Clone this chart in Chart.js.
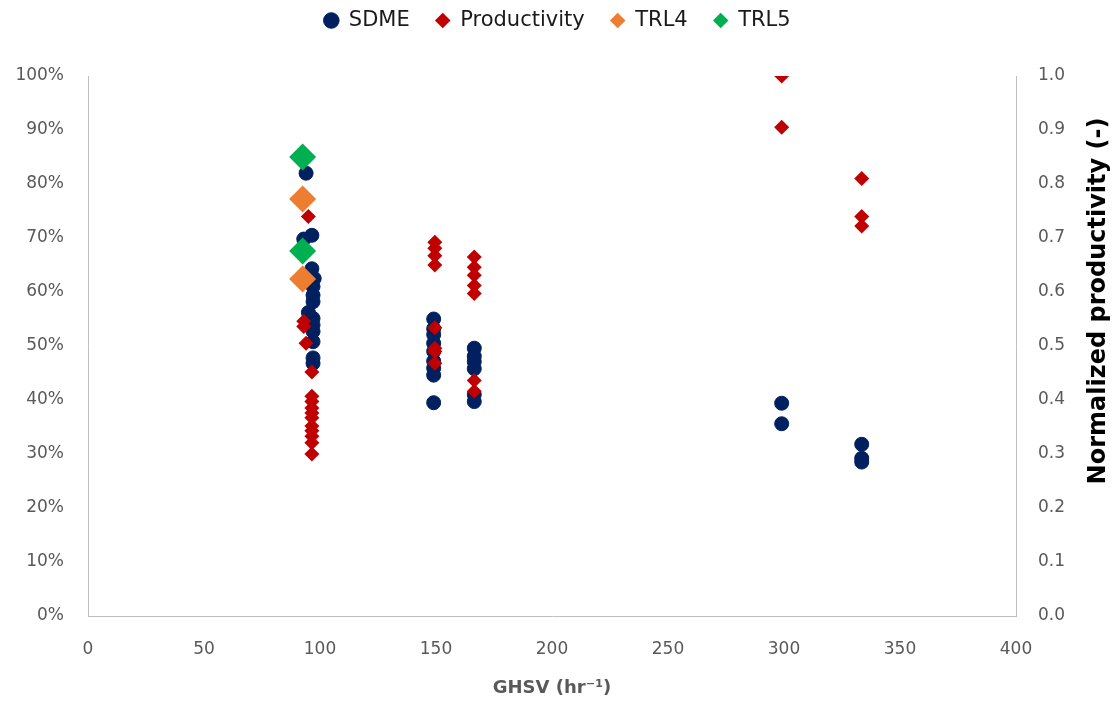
<!DOCTYPE html>
<html>
<head>
<meta charset="utf-8">
<script src="https://cdn.jsdelivr.net/npm/chart.js@4.4.1/dist/chart.umd.min.js"></script>
<style>
  body { margin: 0; background: #fff; }
  #wrap { width: 1115px; height: 701px; }
</style>
</head>
<body>
<div id="wrap"><canvas id="ghsvChart"></canvas></div>
<script>
// GHSV (hr-1) vs SDME (%) and normalized productivity (-)
const sdmeX = [94, 96.5, 93, 96.5, 97.5, 97, 97, 97, 95, 97, 97, 97, 97, 97, 97,
  149, 149, 149, 149, 149, 149, 149, 149, 149,
  166.5, 166.5, 166.5, 166.5, 166.5, 166.5,
  299, 299,
  333.5, 333.5, 333.5];
const sdmeY = [82.0, 70.5, 69.8, 64.3, 62.5, 61.0, 59.4, 58.2, 56.2, 55.1, 53.9, 52.7, 50.8, 47.8, 46.8,
  55.0, 53.2, 52.1, 50.5, 49.0, 47.2, 45.9, 44.6, 39.5,
  49.6, 48.1, 47.1, 45.8, 41.0, 39.7,
  39.4, 35.6,
  31.8, 29.2, 28.5];

const prodX = [95, 93, 93, 94, 96.5, 96.5, 96.5, 96.5, 96.5, 96.5, 96.5, 96.5, 96.5, 96.5, 96.5,
  149.5, 149.5, 149.5, 149.5, 149.5, 149.5, 149.5, 149.5,
  166.5, 166.5, 166.5, 166.5, 166.5, 166.5, 166.5,
  299, 299,
  333.5, 333.5, 333.5];
const prodY = [0.74, 0.546, 0.536, 0.505, 0.452, 0.407, 0.397, 0.385, 0.376, 0.367, 0.352, 0.343, 0.333, 0.321, 0.300,
  0.692, 0.681, 0.667, 0.650, 0.534, 0.496, 0.490, 0.468,
  0.665, 0.646, 0.631, 0.612, 0.597, 0.436, 0.416,
  1.0, 0.905,
  0.81, 0.74, 0.722];

const trl4X = [92.5, 92.5];
const trl4Y = [77.2, 62.4];
const trl5X = [92.5, 92.5];
const trl5Y = [85.0, 67.6];

const xTicks = [0, 50, 100, 150, 200, 250, 300, 350, 400];
const rightTitle = 'Normalized productivity (-)';

const pts = (xs, ys) => xs.map((x, i) => ({ x: x, y: ys[i] }));

// extra room under the legend
const legendSpace = {
  id: 'legendSpace',
  beforeInit(chart) {
    const fit = chart.legend.fit;
    chart.legend.fit = function () {
      fit.call(this);
      this.height += 35;
    };
  }
};

// right axis title reads bottom to top, like the original
const rightAxisTitle = {
  id: 'rightAxisTitle',
  afterDraw(chart) {
    const c = chart.ctx;
    c.save();
    c.translate(1099, 301);
    c.rotate(-Math.PI / 2);
    c.font = 'bold 24px "DejaVu Sans"';
    c.fillStyle = '#000';
    c.textAlign = 'center';
    c.textBaseline = 'middle';
    c.fillText(rightTitle, 0, 0);
    c.restore();
  }
};

const ctx = document.getElementById('ghsvChart').getContext('2d');
const ghsvChart = new Chart(ctx, {
  type: 'scatter',
  data: {
    datasets: [{
      label: 'SDME',
      data: pts(sdmeX, sdmeY),
      yAxisID: 'y',
      pointStyle: 'circle',
      pointRadius: 7,
      borderWidth: 1,
      backgroundColor: '#002060',
      borderColor: '#002060',
      order: 3
    }, {
      label: 'Productivity',
      data: pts(prodX, prodY),
      yAxisID: 'y1',
      pointStyle: 'rectRot',
      pointRadius: 7.5,
      borderWidth: 0,
      backgroundColor: '#C00000',
      borderColor: '#C00000',
      order: 2
    }, {
      label: 'TRL4',
      data: pts(trl4X, trl4Y),
      yAxisID: 'y',
      pointStyle: 'rectRot',
      pointRadius: 13.5,
      borderWidth: 0,
      backgroundColor: '#ED7D31',
      borderColor: '#ED7D31',
      order: 1
    }, {
      label: 'TRL5',
      data: pts(trl5X, trl5Y),
      yAxisID: 'y',
      pointStyle: 'rectRot',
      pointRadius: 13.5,
      borderWidth: 0,
      backgroundColor: '#00B050',
      borderColor: '#00B050',
      order: 0
    }]
  },
  options: {
    responsive: true,
    maintainAspectRatio: false,
    animation: false,
    layout: { padding: { top: -16, left: 0, right: 0, bottom: 0 } },
    plugins: {
      tooltip: { enabled: false },
      legend: {
        position: 'top',
        labels: {
          usePointStyle: true,
          boxWidth: 14,
          boxHeight: 11,
          padding: 26,
          color: '#1a1a1a',
          font: { family: 'DejaVu Sans', size: 21 },
          sort: (a, b) => a.datasetIndex - b.datasetIndex
        }
      }
    },
    scales: {
      x: {
        type: 'linear',
        min: 0,
        max: 400,
        afterBuildTicks: (s) => { s.ticks = xTicks.map(v => ({ value: v })); },
        afterFit: (s) => { s.height = 85; },
        grid: { display: false },
        border: { color: '#bfbfbf', width: 1 },
        ticks: { padding: 15, color: '#595959', font: { family: 'DejaVu Sans', size: 17 } },
        title: {
          display: true,
          text: 'GHSV (hr⁻¹)',
          color: '#595959',
          padding: { top: 0, bottom: 2 },
          font: { family: 'DejaVu Sans', size: 18, weight: 'bold' }
        }
      },
      y: {
        position: 'left',
        min: 0,
        max: 100,
        afterFit: (s) => { s.width = 88; },
        grid: { display: false },
        border: { color: '#bfbfbf', width: 1 },
        ticks: {
          stepSize: 10,
          padding: 16,
          color: '#595959',
          font: { family: 'DejaVu Sans', size: 17 },
          callback: (v) => v + '%'
        }
      },
      y1: {
        position: 'right',
        min: 0,
        max: 1,
        afterFit: (s) => { s.width = 99; },
        grid: { display: false },
        border: { color: '#bfbfbf', width: 1 },
        ticks: {
          stepSize: 0.1,
          padding: 14,
          color: '#595959',
          font: { family: 'DejaVu Sans', size: 17 },
          callback: (v) => v.toFixed(1)
        }
      }
    }
  },
  plugins: [legendSpace, rightAxisTitle]
});
</script>
</body>
</html>
